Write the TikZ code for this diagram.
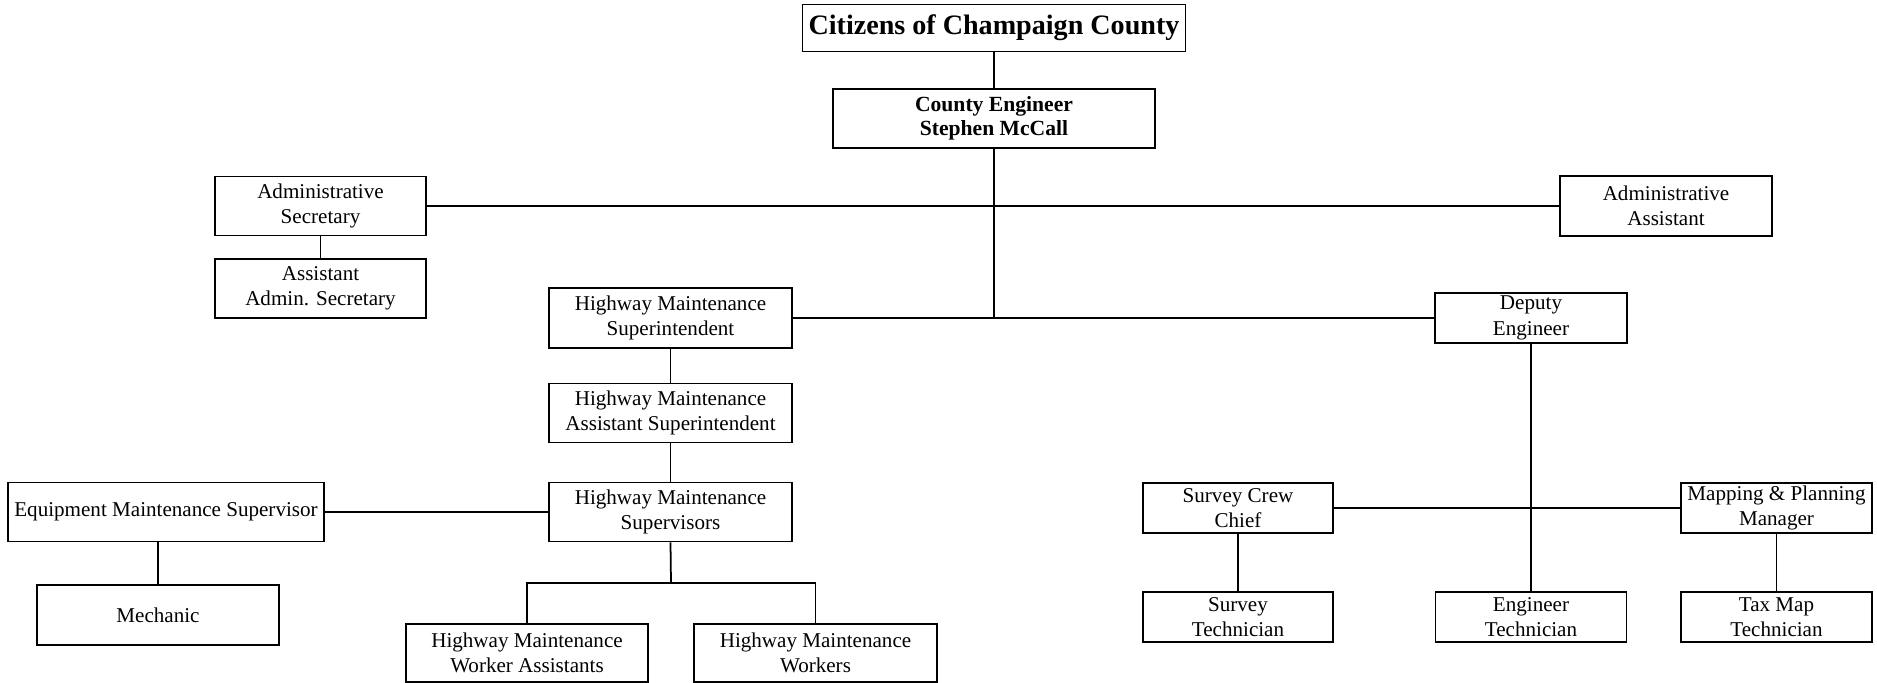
\documentclass[tikz,border=0pt]{standalone}
\usepackage{fontspec}
\setmainfont{Liberation Serif}
\usetikzlibrary{calc}

\begin{document}
\begin{tikzpicture}[x=0.02cm, y=-0.02cm,
    box/.style={draw, line width=1pt, inner sep=0pt, align=center,
                font=\fontsize{12}{14.5}\selectfont},
    bigbox/.style={box, font=\fontsize{12.3}{14}\selectfont\bfseries},
    link/.style={line width=1pt}]
    \useasboundingbox (0,0) rectangle (1877,683);

    % Top of the chart
    \node[box, font=\fontsize{16}{18}\selectfont\bfseries, minimum width=7.66cm, minimum height=0.94cm] (citizens) at (994,28) {Citizens of Champaign County};
    \node[bigbox, minimum width=6.44cm, minimum height=1.18cm] (engineer) at (994,118.5) {County Engineer\\Stephen McCall};
    \coordinate (hub) at (994,318);

    % Office staff
    \node[box, minimum width=4.22cm, minimum height=1.18cm] (adminsec) at (320.5,206) {Administrative\\Secretary};
    \node[box, minimum width=4.22cm, minimum height=1.18cm] (asstsec) at (320.5,288.5) {Assistant\\Admin. Secretary};
    \node[box, minimum width=4.24cm, minimum height=1.2cm] (adminasst) at (1666,206) {Administrative\\Assistant};

    % Highway maintenance branch
    \node[box, minimum width=4.86cm, minimum height=1.2cm] (hmsupt) at (670.5,318) {Highway Maintenance\\Superintendent};
    \node[box, minimum width=4.86cm, minimum height=1.18cm] (hmasst) at (670.5,413) {Highway Maintenance\\Assistant Superintendent};
    \node[box, minimum width=4.86cm, minimum height=1.18cm] (hmsup) at (670.5,512) {Highway Maintenance\\Supervisors};
    \node[box, minimum width=6.32cm, minimum height=1.18cm] (equip) at (166,512) {Equipment Maintenance Supervisor};
    \node[box, minimum width=4.84cm, minimum height=1.2cm] (mechanic) at (158,615) {Mechanic};
    \node[box, minimum width=4.84cm, minimum height=1.16cm] (workasst) at (527,653) {Highway Maintenance\\Worker Assistants};
    \node[box, minimum width=4.86cm, minimum height=1.16cm] (workers) at (815.5,653) {Highway Maintenance\\Workers};
    \coordinate (wsplit) at (671,583);

    % Engineering branch
    \node[box, minimum width=3.84cm, minimum height=1.0cm] (deputy) at (1531,318) {Deputy\\Engineer};
    \node[box, minimum width=3.8cm, minimum height=1.0cm] (crewchief) at (1238,508) {Survey Crew\\Chief};
    \node[box, minimum width=3.82cm, minimum height=1.0cm] (mapping) at (1776.5,508) {Mapping \& Planning\\Manager};
    \node[box, minimum width=3.8cm, minimum height=1.0cm] (surveytech) at (1238,617) {Survey\\Technician};
    \node[box, minimum width=3.82cm, minimum height=1.0cm] (engtech) at (1531,617) {Engineer\\Technician};
    \node[box, minimum width=3.82cm, minimum height=1.0cm] (taxtech) at (1776.5,617) {Tax Map\\Technician};

    % Connectors
    \draw[link] (citizens.south) -- (engineer.north);
    \draw[link] (engineer.south) -- (hub);
    \draw[link] (adminsec.east) -- (adminasst.west);
    \draw[link] (adminsec.south) -- (asstsec.north);
    \draw[link] (hmsupt.east) -- (deputy.west);
    \draw[link] (hmsupt.south) -- (hmasst.north);
    \draw[link] (hmasst.south) -- (hmsup.north);
    \draw[link] (equip.east) -- (hmsup.west);
    \draw[link] (mechanic.north) -- (mechanic.north |- equip.south);
    \draw[link] (hmsup.south) -- (wsplit);
    \draw[link] (workasst.north) |- (wsplit) -| (workers.north);
    \draw[link] (deputy.south) -- (engtech.north);
    \draw[link] (crewchief.east) -- (mapping.west);
    \draw[link] (crewchief.south) -- (surveytech.north);
    \draw[link] (mapping.south) -- (taxtech.north);

    \end{tikzpicture}
\end{document}
